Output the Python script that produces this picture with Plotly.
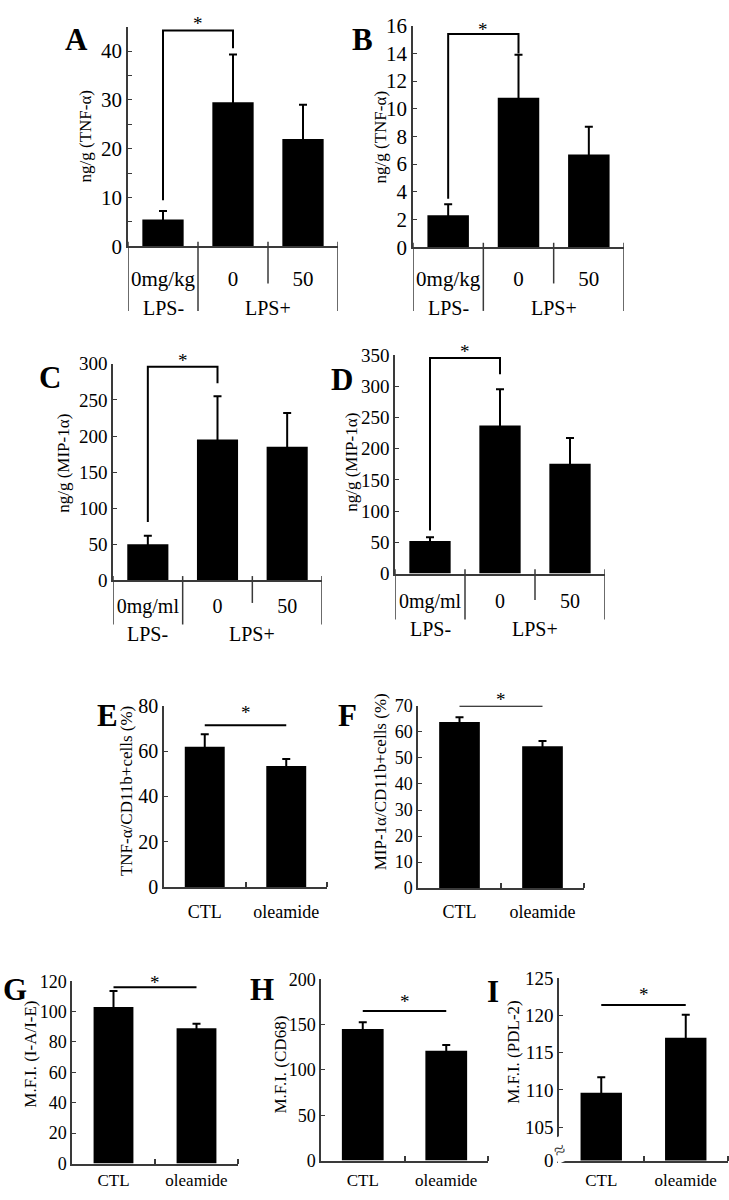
import plotly.graph_objects as go

W, H = 729, 1200
SERIF = "Liberation Serif, Times New Roman, serif"

# ---------------- data ----------------
A_cats = ["0mg/kg", "0", "50"]
A_means = [5.5, 29.5, 22.0]
A_sd = [1.7, 9.8, 7.0]

B_cats = ["0mg/kg", "0", "50"]
B_means = [2.3, 10.8, 6.7]
B_sd = [0.8, 3.1, 2.0]

C_cats = ["0mg/ml", "0", "50"]
C_means = [50, 195, 185]
C_sd = [12, 60, 47]

D_cats = ["0mg/ml", "0", "50"]
D_means = [52, 237, 176]
D_sd = [6, 58, 41]

E_cats = ["CTL", "oleamide"]
E_means = [62.0, 53.5]
E_sd = [5.5, 3.0]

F_cats = ["CTL", "oleamide"]
F_means = [63.8, 54.5]
F_sd = [1.8, 2.0]

G_cats = ["CTL", "oleamide"]
G_means = [103, 89]
G_sd = [10.5, 3.0]

H_cats = ["CTL", "oleamide"]
H_means = [145, 121]
H_sd = [7.5, 6.5]

I_cats = ["CTL", "oleamide"]
I_means = [109.6, 117.0]
I_sd = [2.1, 3.1]

groups = ["LPS-", "LPS+"]

# bracket levels (data units): left-leg bottom, top, right-leg bottom
A_bracket = [9.4, 44.2, 40.6]
B_bracket = [3.5, 15.4, 14.0]
C_bracket = [81, 296, 273]
D_bracket = [69, 345, 319]
# significance line levels for two-bar panels
E_sig, F_sig, G_sig, H_sig, I_sig = 71.4, 70.0, 116.0, 165.0, 121.4

A_ticks = list(range(0, 50, 5))
A_ticktext = [str(v) if v % 10 == 0 else "" for v in A_ticks]
B_ticks = list(range(0, 18, 2))
C_ticks = list(range(0, 350, 50))
D_ticks = list(range(0, 400, 50))
E_ticks = list(range(0, 100, 20))
F_ticks = list(range(0, 80, 10))
G_ticks = list(range(0, 140, 20))
H_ticks = list(range(0, 250, 50))
I_ticks = [100.5, 105, 110, 115, 120, 125]
I_ticktext = ["0", "105", "110", "115", "120", "125"]

# ---------------- layout spec (pixels) ----------------
panels = [
    dict(letter="A", cats=A_cats, means=A_means, sd=A_sd, rect=(128, 15, 338, 239), yr=[0, 45],
         tv=A_ticks, tt=A_ticktext, title="ng/g (TNF-α)", tpos=(85, 127), lpos=(76, 28),
         tfs=21, xfs=21, bw=0.59, xlab_y=269, grp_y=302, sep_long=305, sep_short=277,
         bracket=A_bracket, star_y=9),
    dict(letter="B", cats=B_cats, means=B_means, sd=B_sd, rect=(413, 14, 624, 240), yr=[0, 16],
         tv=B_ticks, tt=[str(v) for v in B_ticks], title="ng/g (TNF-α)", tpos=(380, 128), lpos=(362, 28),
         tfs=21, xfs=21, bw=0.59, xlab_y=269, grp_y=302, sep_long=305, sep_short=277,
         bracket=B_bracket, star_y=15),
    dict(letter="C", cats=C_cats, means=C_means, sd=C_sd, rect=(113, 359, 322, 580), yr=[0, 300],
         tv=C_ticks, tt=[str(v) for v in C_ticks], title="ng/g (MIP-1α)", tpos=(64, 460), lpos=(50, 373),
         tfs=19, xfs=20, bw=0.59, xlab_y=603, grp_y=635, sep_long=625, sep_short=603,
         bracket=C_bracket, star_y=353),
    dict(letter="D", cats=D_cats, means=D_means, sd=D_sd, rect=(395, 350, 605, 573), yr=[0, 350],
         tv=D_ticks, tt=[str(v) for v in D_ticks], title="ng/g (MIP-1α)", tpos=(352, 460), lpos=(342, 375),
         tfs=19, xfs=20, bw=0.59, xlab_y=598, grp_y=630, sep_long=620, sep_short=600,
         bracket=D_bracket, star_y=343),
    dict(letter="E", cats=E_cats, means=E_means, sd=E_sd, rect=(164, 708, 327, 893), yr=[0, 80],
         tv=E_ticks, tt=[str(v) for v in E_ticks], title="TNF-α/CD11b+cells (%)", tpos=(126, 795),
         lpos=(107, 718), tfs=20, xfs=18, bw=0.49, xlab_y=915, sig=E_sig, star_y=712),
    dict(letter="F", cats=F_cats, means=F_means, sd=F_sd, rect=(418, 708, 584, 894), yr=[0, 70],
         tv=F_ticks, tt=[str(v) for v in F_ticks], title="MIP-1α/CD11b+cells (%)", tpos=(380, 786),
         lpos=(347, 718), tfs=18, xfs=18, bw=0.49, xlab_y=915, sig=F_sig, star_y=698),
    dict(letter="G", cats=G_cats, means=G_means, sd=G_sd, rect=(72, 989, 238, 1175), yr=[0, 120],
         tv=G_ticks, tt=[str(v) for v in G_ticks], title="M.F.I. (I-A/I-E)", tpos=(31, 1064),
         lpos=(15, 997), tfs=18, xfs=17, bw=0.48, xlab_y=1189, sig=G_sig, star_y=987),
    dict(letter="H", cats=H_cats, means=H_means, sd=H_sd, rect=(321, 987, 488, 1172), yr=[0, 200],
         tv=H_ticks, tt=[str(v) for v in H_ticks], title="M.F.I. (CD68)", tpos=(281, 1074),
         lpos=(262, 997), tfs=18, xfs=17, bw=0.5, xlab_y=1189, sig=H_sig, star_y=1007),
    dict(letter="I", cats=I_cats, means=I_means, sd=I_sd, rect=(559, 986, 728, 1172), yr=[100.5, 125],
         tv=I_ticks, tt=I_ticktext, title="M.F.I. (PDL-2)", tpos=(514, 1062),
         lpos=(493, 999), tfs=19, xfs=17, bw=0.49, xlab_y=1189, sig=I_sig, star_y=999),
]

AXC = "#3a3a3a"

def fx(px):
    return px / W

def fy(py):
    return 1 - py / H

fig = go.Figure()
layout = dict(width=W, height=H, margin=dict(l=0, r=0, t=0, b=0), plot_bgcolor="white",
              paper_bgcolor="white", showlegend=False, font=dict(family=SERIF, color="black"))
shapes, annots = [], []

for i, p in enumerate(panels, start=1):
    sfx = "" if i == 1 else str(i)
    xa, ya = "x" + sfx, "y" + sfx
    xk, yk = "xaxis" + sfx, "yaxis" + sfx
    L, T, R, B_ = p["rect"]
    n = len(p["cats"])
    ph = B_ - T
    fig.add_trace(go.Bar(
        x=p["cats"], y=p["means"], width=p["bw"], marker=dict(color="black", line=dict(width=0)),
        error_y=dict(type="data", array=p["sd"], symmetric=True,
                     color="black", thickness=2, width=4),
        xaxis=xa, yaxis=ya, hoverinfo="skip"))
    xlab_off = p["xlab_y"] - B_
    layout[xk] = dict(domain=[fx(L), fx(R)], anchor=ya, type="category", range=[-0.5, n - 0.5],
                      showline=True, linecolor=AXC, linewidth=1.5, showgrid=False, zeroline=False,
                      ticks="outside", ticklen=max(round(xlab_off - 0.8 * p["xfs"]), 0),
                      tickcolor="rgba(0,0,0,0)",
                      tickfont=dict(family=SERIF, size=p["xfs"], color="black"),
                      fixedrange=True)
    if n == 2:
        layout[xk]["minor"] = dict(tickmode="array", tickvals=[0.5, 1.5], ticks="inside",
                                   ticklen=5, tickcolor=AXC, tickwidth=1.5)
    layout[yk] = dict(domain=[fy(B_), fy(T)], anchor=xa, range=p["yr"], tickmode="array",
                      tickvals=p["tv"], ticktext=p["tt"], ticks="inside", ticklen=4,
                      tickcolor=AXC, tickwidth=1.2, showline=True, linecolor=AXC, linewidth=1.5,
                      showgrid=False, zeroline=False,
                      tickfont=dict(family=SERIF, size=p["tfs"], color="black"), fixedrange=True)
    annots.append(dict(text=p["letter"], xref="paper", yref="paper", x=fx(p["lpos"][0]),
                       y=fy(p["lpos"][1]), xanchor="center", yanchor="middle", showarrow=False,
                       font=dict(family=SERIF, size=31, color="black", weight="bold")))
    annots.append(dict(text=p["title"], xref="paper", yref="paper", x=fx(p["tpos"][0]),
                       y=fy(p["tpos"][1]), xanchor="center", yanchor="middle", showarrow=False,
                       textangle=-90, font=dict(family=SERIF, size=17, color="black")))
    if n == 3:
        for xb, end in [(-0.5, p["sep_long"]), (0.5, p["sep_long"]), (1.5, p["sep_short"]),
                        (2.5, p["sep_long"])]:
            shapes.append(dict(type="line", xref=xa, yref=f"{ya} domain", x0=xb, x1=xb,
                               y0=0.02, y1=-(end - B_) / ph, line=dict(color=AXC, width=1.5)))
        for gx, g in [(0, groups[0]), (1.5, groups[1])]:
            annots.append(dict(text=g, xref=xa, yref="paper", x=gx, y=fy(p["grp_y"]),
                               xanchor="center", yanchor="middle", showarrow=False,
                               font=dict(family=SERIF, size=20, color="black")))
        lb, top, rb = p["bracket"]
        fig.add_trace(go.Scatter(x=[p["cats"][0], p["cats"][0], p["cats"][1], p["cats"][1]],
                                 y=[lb, top, top, rb], mode="lines", cliponaxis=False,
                                 line=dict(color="black", width=2), xaxis=xa, yaxis=ya,
                                 hoverinfo="skip"))
    else:
        fig.add_trace(go.Scatter(x=[p["cats"][0], p["cats"][1]], y=[p["sig"], p["sig"]],
                                 mode="lines", cliponaxis=False,
                                 line=dict(color="black", width=2), xaxis=xa, yaxis=ya,
                                 hoverinfo="skip"))
    annots.append(dict(text="*", xref=xa, yref="paper", x=0.5, y=fy(p["star_y"]),
                       xanchor="center", yanchor="middle", showarrow=False, yshift=-3,
                       font=dict(family=SERIF, size=19, color="black")))

# axis break mark on panel I
annots.append(dict(text="≈", xref="x9", yref="paper", x=-0.5, y=fy(1161), xanchor="center",
                   yanchor="middle", showarrow=False, textangle=-25,
                   font=dict(family=SERIF, size=20, color=AXC), bgcolor="white"))

layout["shapes"] = shapes
layout["annotations"] = annots
fig.update_layout(**layout)
fig.write_html("out.html", config={"displayModeBar": False},
               post_script="document.body.style.margin='0px';document.body.style.overflow='hidden';")
